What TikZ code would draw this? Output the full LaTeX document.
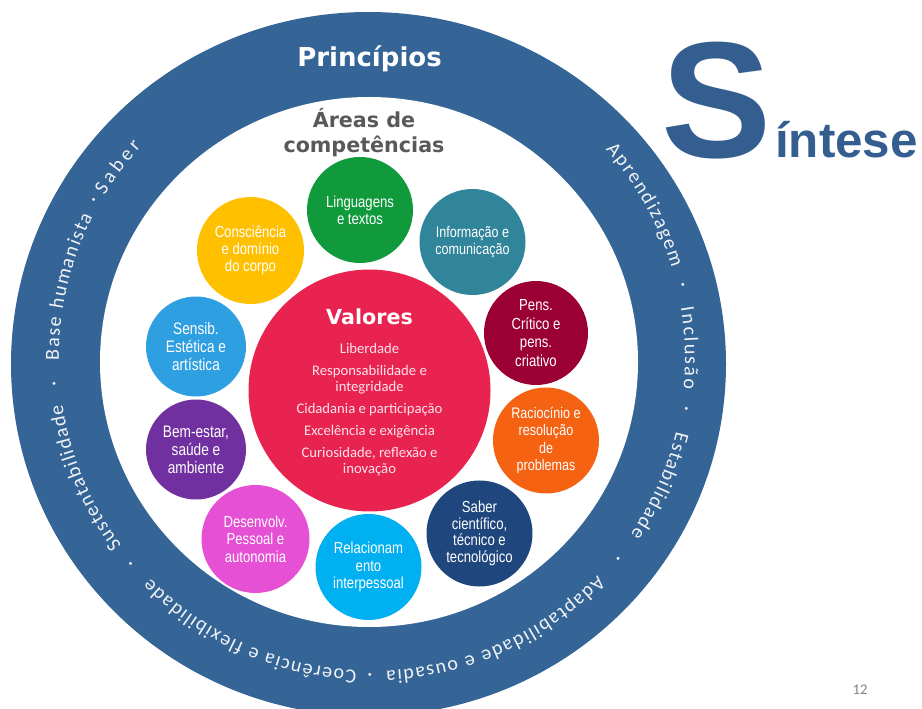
\documentclass[tikz,border=0pt]{standalone}
\usepackage{fontspec}
\setmainfont{Liberation Sans}
\newfontfamily\narrowfont[FakeStretch=0.82]{Liberation Sans}
\newfontfamily\calfont{Carlito}
\newfontfamily\dvfont{DejaVu Sans}
\newfontfamily\arialfont{Liberation Sans}
\usetikzlibrary{decorations.text,calc}
\definecolor{ringblue}{RGB}{52,101,150}
\definecolor{titleblue}{RGB}{52,94,143}
\definecolor{bandtext}{RGB}{240,242,246}
\definecolor{areagray}{RGB}{89,89,89}
\definecolor{cgreen}{RGB}{16,154,60}
\definecolor{cyellow}{RGB}{255,192,0}
\definecolor{cteal}{RGB}{49,133,155}
\definecolor{cwine}{RGB}{155,0,52}
\definecolor{corange}{RGB}{245,98,18}
\definecolor{cnavy}{RGB}{31,71,125}
\definecolor{ccyan}{RGB}{0,176,240}
\definecolor{cmagenta}{RGB}{229,80,212}
\definecolor{cpurple}{RGB}{112,48,160}
\definecolor{cblue}{RGB}{46,159,224}
\definecolor{ccrimson}{RGB}{233,35,80}
\definecolor{valtext}{RGB}{252,226,233}
\definecolor{pagegray}{RGB}{128,128,128}
\newcommand{\bandfont}{\calfont\fontsize{15}{17}\selectfont}
\begin{document}
\begin{tikzpicture}[x=0.75pt,y=0.75pt,
  area/.style={circle, inner sep=0pt, align=center, text=white,
    font=\narrowfont\fontsize{12}{13}\selectfont},
  areasmall/.style={area, font=\narrowfont\fontsize{11.5}{12.2}\selectfont},
  bandtxt/.style={decorate, decoration={text along path, text align={fit to path},
    text color=bandtext, text={|\bandfont|#1}}},
  banddot/.style={text=bandtext, inner sep=0pt, font=\bandfont}]
\useasboundingbox (0,0) rectangle (922,708);
\clip (0,0) rectangle (922,708);
% ring
\fill[ringblue] (368.5,344) ellipse[x radius=357.5, y radius=352];
\fill[white] (369,346) ellipse[x radius=269, y radius=265];
% band text
\coordinate (bc) at (372,350);
\path[bandtxt={Aprendizagem}] (bc) ++(41.7:313) arc[start angle=41.7, end angle=16.7, radius=313];
\path[bandtxt={Inclusão}] (bc) ++(9.3:313) arc[start angle=9.3, end angle=-5.7, radius=313];
\path[bandtxt={Estabilidade}] (bc) ++(-13.6:313) arc[start angle=-13.6, end angle=-34.3, radius=313];
\path[bandtxt={Adaptabilidade e ousadia}] (bc) ++(-43.9:313) arc[start angle=-43.9, end angle=-87.4, radius=313];
\path[bandtxt={Coerência e flexibilidade}] (bc) ++(-92.8:313) arc[start angle=-92.8, end angle=-135.1, radius=313];
\path[bandtxt={Sustentabilidade}] (bc) ++(-143.1:313) arc[start angle=-143.1, end angle=-171.5, radius=313];
\path[bandtxt={Base humanista}] (bc) ++(-179.6:313) arc[start angle=-179.6, end angle=-206.9, radius=313];
\path[bandtxt={Saber}] (bc) ++(-211.3:313) arc[start angle=-211.3, end angle=-222.5, radius=313];
\node[banddot] (dot1) at ($(bc)+(12.9:319)$) {·};
\node[banddot] (dot2) at ($(bc)+(-9.6:319)$) {·};
\node[banddot] (dot3) at ($(bc)+(-39.5:319)$) {·};
\node[banddot] (dot4) at ($(bc)+(-90.4:319)$) {·};
\node[banddot] (dot5) at ($(bc)+(-139.2:319)$) {·};
\node[banddot] (dot6) at ($(bc)+(-174.9:319)$) {·};
\node[banddot] (dot7) at ($(bc)+(-209.2:319)$) {·};
% titles
\node[anchor=base, text=white, font=\dvfont\bfseries\fontsize{19.5}{22}\selectfont] (princ) at (369.5,641) {Princípios};
\node[anchor=base, text=areagray, font=\dvfont\bfseries\fontsize{15.5}{18}\selectfont] (areas1) at (364,580) {Áreas de};
\node[anchor=base, text=areagray, font=\dvfont\bfseries\fontsize{15.5}{18}\selectfont] (areas2) at (364,555) {competências};
\node[anchor=base west, inner sep=0pt, text=titleblue, font=\arialfont\bfseries\fontsize{124}{128}\selectfont] (bigS) at (661,550) {S};
\node[anchor=base west, inner sep=0pt, text=titleblue, font=\arialfont\bfseries\fontsize{37}{40}\selectfont] (sintese) at (775,550) {íntese};
\node[text=pagegray, font=\calfont\fontsize{11}{13}\selectfont] (pagenum) at (860,18) {12};
% competence circles
\node[area, fill=cgreen, minimum size=79.5pt] (ling) at (360,498) {Linguagens\\e textos};
\node[area, fill=cyellow, minimum size=80.25pt] (consc) at (250.5,457.5) {Consciência\\e domínio\\do corpo};
\node[areasmall, fill=cteal, minimum size=79.5pt] (info) at (472.5,466) {Informação e\\comunicação};
\node[area, fill=cwine, minimum size=78pt, font=\narrowfont\fontsize{12}{14}\selectfont] (pens) at (536,375) {Pens.\\Crítico e\\pens.\\criativo};
\node[areasmall, fill=corange, minimum size=79.5pt, font=\narrowfont\fontsize{11.5}{13}\selectfont] (racioc) at (546,267.5) {Raciocínio e\\resolução\\de\\problemas};
\node[area, fill=cnavy, minimum size=79.5pt, font=\narrowfont\fontsize{12}{12.4}\selectfont] (saber) at (479.5,174.5) {Saber\\científico,\\técnico e\\tecnológico};
\node[area, fill=ccyan, minimum size=79.5pt] (relac) at (368.5,141) {Relacionam\\ento\\interpessoal};
\node[area, fill=cmagenta, minimum size=81pt] (desenv) at (255.5,169) {Desenvolv.\\Pessoal e\\autonomia};
\node[area, fill=cpurple, minimum size=75pt, font=\narrowfont\fontsize{12.5}{13.5}\selectfont] (bem) at (196,258.5) {Bem-estar,\\saúde e\\ambiente};
\node[area, fill=cblue, minimum size=75pt, font=\narrowfont\fontsize{12.5}{13.5}\selectfont] (sensib) at (196,361.5) {Sensib.\\Estética e\\artística};
% values
\node[circle, inner sep=0pt, fill=ccrimson, minimum size=181.5pt] (valores) at (369.5,317.5) {};
\node[text=white, font=\dvfont\bfseries\fontsize{15.5}{18}\selectfont] (valtitle) at (369.5,391) {Valores};
\node[text=valtext, align=center, font=\calfont\fontsize{11}{12}\selectfont] (vallist) at (369.5,298)
  {Liberdade\\[4.5pt]Responsabilidade e\\integridade\\[4.5pt]Cidadania e participação\\[4.5pt]Excelência e exigência\\[4.5pt]Curiosidade, reflexão e\\inovação};
\end{tikzpicture}
\end{document}
